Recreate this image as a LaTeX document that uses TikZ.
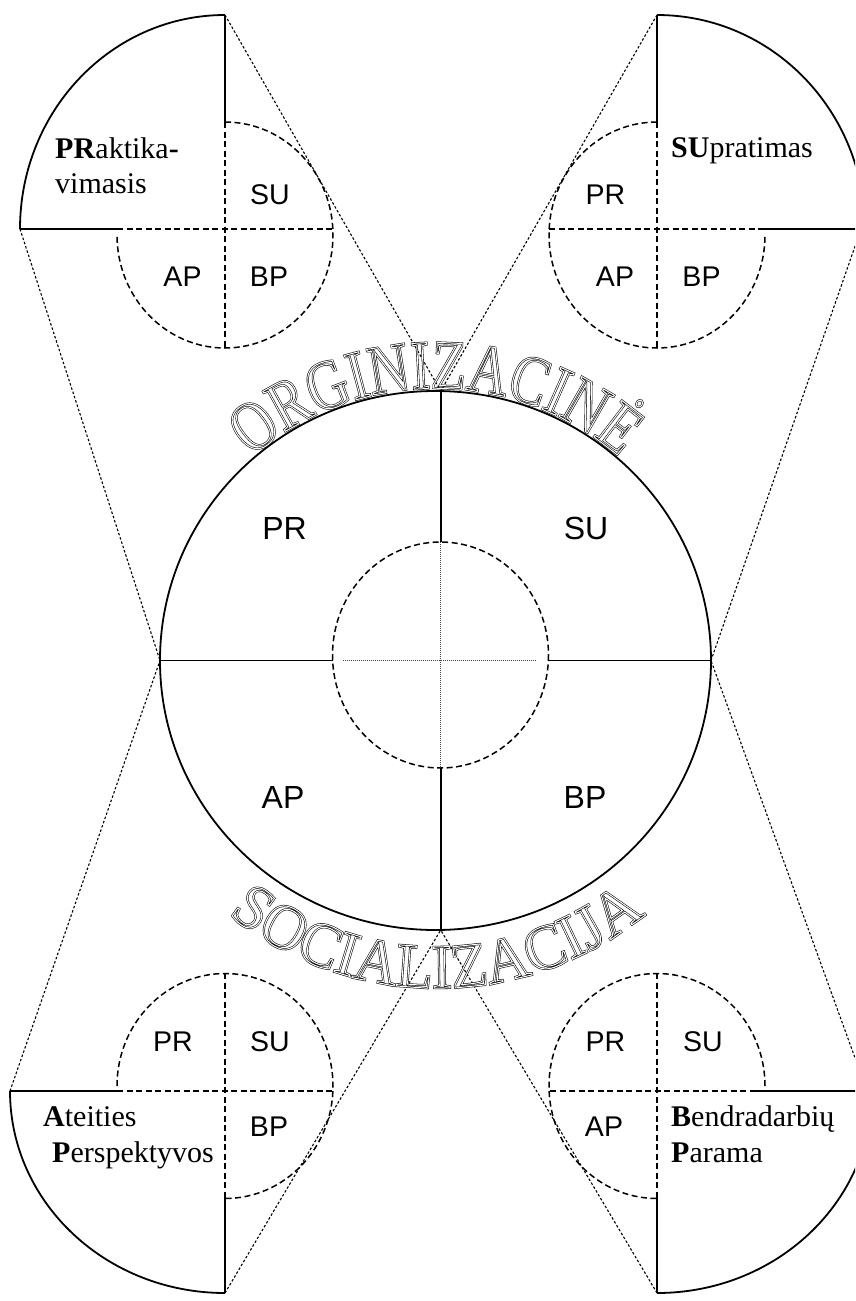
\documentclass[tikz,border=0pt]{standalone}
\usepackage{fontspec}
\setmainfont{Liberation Serif}
\newfontfamily\sansf{Liberation Sans}
\newfontfamily\arcA[FakeStretch=0.80]{Liberation Serif}
\newfontfamily\arcB[FakeStretch=0.97]{Liberation Serif}
\usetikzlibrary{decorations.text}
\newcommand\outlblack{\special{pdf:literal direct 1 Tr 2.1 w 0 G}}
\newcommand\outlwhite{\special{pdf:literal direct 1 Tr 1.0 w 1 G}}
\begin{document}
\begin{tikzpicture}[x=1pt,y=-1pt,
  solidline/.style={line width=1.8pt},
  dashline/.style={line width=1.5pt, dash pattern=on 6pt off 3.5pt},
  dotline/.style={line width=1.1pt, dash pattern=on 2.5pt off 2pt},
  finedot/.style={line width=0.9pt, dash pattern=on 1pt off 1pt, black!75},
  biglbl/.style={font=\sansf\fontsize{32}{36}\selectfont, inner sep=0pt},
  smalllbl/.style={font=\sansf\fontsize{28.5}{32}\selectfont, inner sep=0pt},
  namelbl/.style={font=\fontsize{30}{35}\selectfont, inner sep=0pt, anchor=base west}]
\useasboundingbox (0,0) rectangle (855,1301);
\clip (0,0) rectangle (855,1301);

% ---- key points
\coordinate (Mtop) at (440.7,391);
\coordinate (Mbot) at (440.7,930);
\coordinate (Mleft) at (160,660.5);
\coordinate (Mright) at (711,660.5);
\coordinate (TLtop) at (225,15);
\coordinate (TLleft) at (20,229);
\coordinate (TRtop) at (657,15);
\coordinate (TRright) at (861,229);
\coordinate (BLleft) at (10,1091);
\coordinate (BLbot) at (225,1293);
\coordinate (BRright) at (867,1091);
\coordinate (BRbot) at (657,1293);

% ---- dotted connectors
\draw[dotline] (TLtop) -- (Mtop);
\draw[dotline] (TRtop) -- (Mtop);
\draw[dotline] (TLleft) -- (Mleft);
\draw[dotline] (BLleft) -- (Mleft);
\draw[dotline] (TRright) -- (Mright);
\draw[dotline] (BRright) -- (Mright);
\draw[dotline] (BLbot) -- (Mbot);
\draw[dotline] (BRbot) -- (Mbot);

% ---- central circle
\draw[solidline] (435.5,660.5) ellipse [x radius=275.5, y radius=269.5];
\draw[dashline] (440.5,655) ellipse [x radius=108, y radius=113];
\draw[solidline] (Mleft) -- (333,660.5);
\draw[solidline] (548.5,660.5) -- (Mright);
\draw[solidline] (Mtop) -- (440.7,542);
\draw[solidline] (440.7,768) -- (Mbot);
\draw[finedot] (343,660.5) -- (536,660.5);
\draw[finedot] (440.7,542) -- (440.7,768);

\node[biglbl] (mPR) at (284.5,528) {PR};
\node[biglbl] (mSU) at (586,528) {SU};
\node[biglbl] (mAP) at (283,797) {AP};
\node[biglbl] (mBP) at (585,797) {BP};

% ---- curved titles (double outline)
\foreach \ol in {\outlblack,\outlwhite}{
\path[decorate, decoration={text along path, text align=center,
   text={|\arcA\fontsize{70}{70}\selectfont\ol|ORGINIZACINĖ}}]
  ([shift={(-150:277 and 272)}]435.5,660.5) arc[start angle=-150, end angle=-30, x radius=277, y radius=272];
\path[decorate, decoration={text along path, text align=center,
   text={|\arcB\fontsize{63}{63}\selectfont\ol|SOCIALIZACIJA}}]
  ([shift={(150:330 and 328)}]437,660) arc[start angle=150, end angle=30, x radius=330, y radius=328];
}

% ---- top-left figure
\draw[solidline] (TLtop) arc[start angle=-90, end angle=-180, x radius=205, y radius=214];
\draw[solidline] (TLtop) -- (225,122);
\draw[dashline] (225,122) -- (225,348);
\draw[solidline] (TLleft) -- (117,229);
\draw[dashline] (117,229) -- (333,229);
\draw[dashline] (225,122) arc[start angle=-90, end angle=180, x radius=108, y radius=113];
\node[namelbl] (tlA) at (55,158) {\textbf{PR}aktika\textbf{-}};
\node[namelbl] (tlB) at (55,193) {vimasis};
\node[smalllbl] (tlSU) at (270,195) {SU};
\node[smalllbl] (tlAP) at (182.5,277) {AP};
\node[smalllbl] (tlBP) at (269,277) {BP};

% ---- top-right figure
\draw[solidline] (TRtop) arc[start angle=-90, end angle=0, x radius=208, y radius=214];
\draw[solidline] (TRtop) -- (657,122);
\draw[dashline] (657,122) -- (657,348);
\draw[dashline] (549,229) -- (763,229);
\draw[solidline] (763,229) -- (TRright);
\draw[dashline] (657,122) arc[start angle=-90, end angle=-360, x radius=108, y radius=113];
\node[namelbl] (trA) at (671,157) {\textbf{SU}pratimas};
\node[smalllbl] (trPR) at (605.5,195) {PR};
\node[smalllbl] (trAP) at (615,277) {AP};
\node[smalllbl] (trBP) at (701.5,277) {BP};

% ---- bottom-left figure
\draw[solidline] (BLleft) arc[start angle=180, end angle=90, x radius=215, y radius=202];
\draw[dashline] (225,973) -- (225,1198);
\draw[solidline] (225,1198) -- (BLbot);
\draw[solidline] (BLleft) -- (117,1091);
\draw[dashline] (117,1091) -- (333,1091);
\draw[dashline] (117,1086) arc[start angle=-180, end angle=90, x radius=108, y radius=112.5];
\node[namelbl] (blA) at (43,1126) {\textbf{A}teities};
\node[namelbl] (blB) at (52,1162) {\textbf{P}erspektyvos};
\node[smalllbl] (blPR) at (173,1042) {PR};
\node[smalllbl] (blSU) at (270,1042) {SU};
\node[smalllbl] (blBP) at (269,1127) {BP};

% ---- bottom-right figure
\draw[solidline] (BRbot) arc[start angle=90, end angle=0, x radius=215, y radius=202];
\draw[dashline] (657,973) -- (657,1198);
\draw[solidline] (657,1198) -- (BRbot);
\draw[dashline] (550,1091) -- (750,1091);
\draw[solidline] (750,1091) -- (BRright);
\draw[dashline] (765,1086) arc[start angle=0, end angle=-270, x radius=108, y radius=112.5];
\node[namelbl] (brA) at (671,1126) {\textbf{B}endradarbių};
\node[namelbl] (brB) at (671,1162) {\textbf{P}arama};
\node[smalllbl] (brPR) at (605.5,1042) {PR};
\node[smalllbl] (brSU) at (703,1042) {SU};
\node[smalllbl] (brAP) at (604,1127) {AP};
\end{tikzpicture}
\end{document}
